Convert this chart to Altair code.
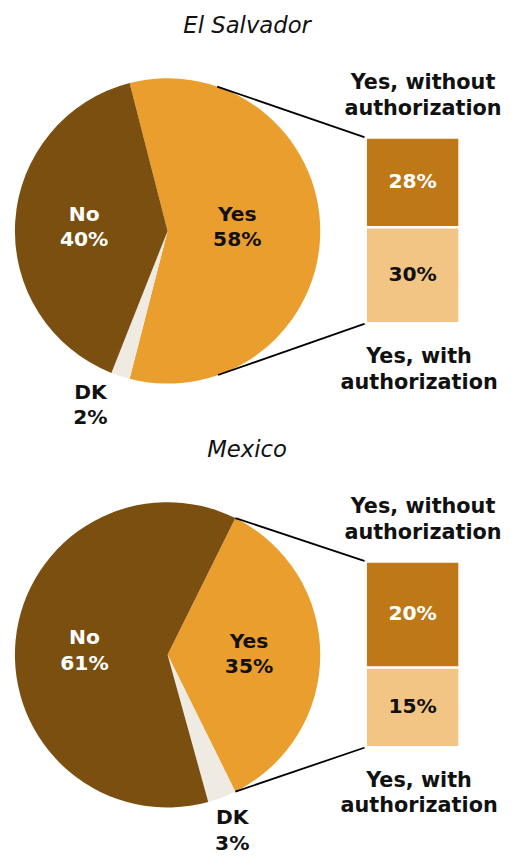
import math
import altair as alt
import pandas as pd

# ---------------- data ----------------
countries = ["El Salvador", "Mexico"]
pie_labels = ["Yes", "DK", "No"]
pie_values = {"El Salvador": [58, 2, 40], "Mexico": [35, 3, 61]}
bar_labels = ["Yes, without\nauthorization", "Yes, with\nauthorization"]
bar_values = {"El Salvador": [28, 30], "Mexico": [20, 15]}

# ---------------- styles ----------------
PIE_COLORS = ["#E99E2E", "#EFEBE3", "#7B4F0F"]
PIE_TEXT = ["#111111", "#111111", "#FFFFFF"]
BAR_COLORS = ["#BE7817", "#F2C585"]
BAR_TEXT = ["#FFFFFF", "#111111"]
FONT = "DejaVu Sans"
FS = 20.5
FS_SIDE = 21
FS_TITLE = 23
LH = 26

# ---------------- layout ----------------
W = 505
HEIGHTS = [429, 421]
CX, CY, R = 161.5, 220.5, 154.5
BX0, BX1, BY0, BY1 = 362, 457, 126, 314
TITLE_X, TITLE_Y = 242, 20
TOP_LBL_X, TOP_LBL_Y = 420, 77
BOT_LBL_X, BOT_LBL_Y = 416, 354
# label placement per panel: (radius, angle nudge in degrees) for Yes, DK, No
LABEL_POS = {
    "El Salvador": [(70.7, -3.9), (192, 6), (84.6, -0.4)],
    "Mexico": [(82.5, -1.2), (188.7, 0.6), (84.3, -2)],
}
BLOCK_TO_BASELINE = 5.7  # first-line baseline sits this far above a 2-line block centre


def panel(country, height):
    vals = pie_values[country]
    total = float(sum(vals))
    yes_frac = vals[0] / total
    start = math.pi / 2 - math.pi * yes_frac
    end_yes = start + 2 * math.pi * yes_frac

    pie_df = pd.DataFrame({
        "label": pie_labels,
        "value": vals,
        "ord": list(range(len(vals))),
        "color": PIE_COLORS,
    })
    theta_scale = alt.Scale(domain=[0, total], range=[start, start + 2 * math.pi])
    arcs = alt.Chart(pie_df).mark_arc(outerRadius=R).encode(
        theta=alt.Theta("value:Q", stack=True, scale=theta_scale),
        order=alt.Order("ord:Q"),
        color=alt.Color("color:N", scale=None),
        x=alt.value(CX),
        y=alt.value(CY),
    )

    # pie labels at slice mid-angles
    rows = []
    cum = 0.0
    for i, (lab, v) in enumerate(zip(pie_labels, vals)):
        mid = start + 2 * math.pi * (cum + v / 2.0) / total
        cum += v
        rad, nudge = LABEL_POS[country][i]
        a = mid + math.radians(nudge)
        rows.append({
            "x": CX + rad * math.sin(a),
            "y": CY - rad * math.cos(a) - BLOCK_TO_BASELINE,
            "text": f"{lab}\n{v}%",
            "tc": PIE_TEXT[i],
        })
    pie_text = alt.Chart(pd.DataFrame(rows)).mark_text(
        font=FONT, fontWeight="bold", fontSize=FS, lineBreak="\n",
        lineHeight=LH, baseline="alphabetic", align="center",
    ).encode(
        x=alt.X("x:Q", scale=None),
        y=alt.Y("y:Q", scale=None),
        text="text:N",
        color=alt.Color("tc:N", scale=None),
    )

    # connector lines: slice edge or tangent point, whichever keeps the line outside the pie
    def circle_pt(a):
        return CX + R * math.sin(a), CY - R * math.cos(a)

    dx = BX0 - CX
    up_t = CY - BY0
    d_t = math.hypot(dx, up_t)
    tan_t = math.atan2(dx, up_t) - math.acos(R / d_t)
    a_top = max(start, tan_t)
    up_b = CY - BY1
    d_b = math.hypot(dx, up_b)
    tan_b = math.atan2(dx, up_b) + math.acos(R / d_b)
    a_bot = min(end_yes, tan_b)
    p_t = circle_pt(a_top)
    p_b = circle_pt(a_bot)
    line_df = pd.DataFrame({
        "x": [p_t[0], p_b[0]], "y": [p_t[1], p_b[1]],
        "x2": [BX0, BX0], "y2": [BY0, BY1],
    })
    lines = alt.Chart(line_df).mark_rule(color="#000000", strokeWidth=1.8).encode(
        x=alt.X("x:Q", scale=None), y=alt.Y("y:Q", scale=None),
        x2="x2:Q", y2="y2:Q",
    )

    # stacked bar of the Yes slice
    bvals = bar_values[country]
    bar_df = pd.DataFrame({
        "label": bar_labels,
        "value": bvals,
        "ord": list(range(len(bvals))),
        "color": BAR_COLORS,
        "tc": BAR_TEXT,
        "pct": [f"{v}%" for v in bvals],
    })
    yscale = alt.Scale(domain=[0, 1], range=[BY0, BY1])
    bar_base = alt.Chart(bar_df).transform_stack(
        stack="value", groupby=[], as_=["y0", "y1"], offset="normalize",
        sort=[alt.SortField("ord", order="ascending")],
    ).transform_calculate(mid="(datum.y0 + datum.y1) / 2")
    bar = bar_base.mark_bar(stroke="#FFFFFF", strokeWidth=2.5).encode(
        x=alt.value(BX0), x2=alt.value(BX1),
        y=alt.Y("y0:Q", scale=yscale, axis=None), y2="y1:Q",
        color=alt.Color("color:N", scale=None),
    )
    bar_text = bar_base.mark_text(
        font=FONT, fontWeight="bold", fontSize=FS, baseline="middle", align="center",
    ).encode(
        x=alt.value((BX0 + BX1) / 2),
        y=alt.Y("mid:Q", scale=yscale, axis=None),
        text="pct:N",
        color=alt.Color("tc:N", scale=None),
    )

    side_df = pd.DataFrame({
        "x": [TOP_LBL_X, BOT_LBL_X],
        "y": [TOP_LBL_Y, BOT_LBL_Y],
        "text": bar_labels,
    })
    side_text = alt.Chart(side_df).mark_text(
        font=FONT, fontWeight="bold", fontSize=FS_SIDE, lineBreak="\n",
        lineHeight=LH, baseline="alphabetic", align="center", color="#111111",
    ).encode(
        x=alt.X("x:Q", scale=None), y=alt.Y("y:Q", scale=None), text="text:N",
    )

    title_df = pd.DataFrame({"x": [TITLE_X], "y": [TITLE_Y], "text": [country]})
    title = alt.Chart(title_df).mark_text(
        font=FONT, fontStyle="italic", fontSize=FS_TITLE, baseline="alphabetic",
        align="center", color="#111111",
    ).encode(
        x=alt.X("x:Q", scale=None), y=alt.Y("y:Q", scale=None), text="text:N",
    )

    return alt.layer(arcs, lines, pie_text, bar, bar_text, side_text, title).properties(
        width=W, height=height
    ).resolve_scale(x="independent", y="independent", theta="independent")


chart = alt.vconcat(
    panel(countries[0], HEIGHTS[0]),
    panel(countries[1], HEIGHTS[1]),
    spacing=0,
).properties(padding=0).configure_view(stroke=None)

chart.save("out.html", embed_options={"renderer": "svg", "actions": False})
